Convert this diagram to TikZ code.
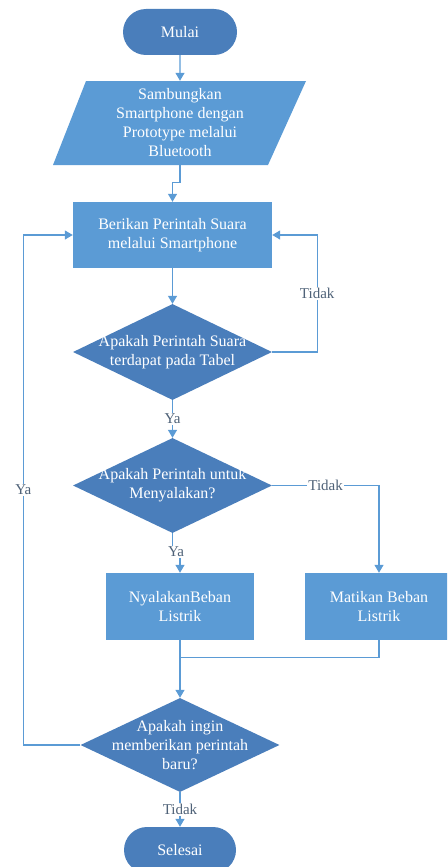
\documentclass[tikz,border=0pt]{standalone}
\usepackage{fontspec}
\setmainfont{Liberation Serif}
\usetikzlibrary{shapes.geometric,shapes.misc,arrows.meta,calc}
\definecolor{dk}{HTML}{4A7EBB}
\definecolor{lt}{HTML}{5B9BD5}
\definecolor{ln}{HTML}{5B9BD5}
\definecolor{lb}{HTML}{4F6278}
\begin{document}
\begin{tikzpicture}[x=1pt,y=-1pt,
 every node/.style={font=\fontsize{16}{19}\selectfont},
 term/.style={rounded rectangle, fill=dk, minimum width=114pt, minimum height=46pt, inner sep=0pt, text=white},
 box/.style={rectangle, fill=lt, inner sep=0pt, text=white, align=center},
 dia/.style={diamond, fill=dk, inner sep=0pt},
 txt/.style={text=white, align=center, inner sep=0pt},
 conn/.style={draw=ln, line width=1.2pt},
 arr/.style={conn, -{Triangle[width=9pt,length=8pt]}},
 lbl/.style={fill=white, text=lb, inner sep=1.5pt, font=\fontsize{15}{16}\selectfont}
]
\useasboundingbox (0,0) rectangle (447,867);
\clip (0,0) rectangle (447,867);

\node[term] (m) at (180,32) {Mulai};
\fill[lt] (86,81) -- (306,81) -- (268,165) -- (53,165) -- cycle;
\node[txt, minimum width=214pt, minimum height=84pt] (p) at (180,123) {Sambungkan\\Smartphone dengan\\Prototype melalui\\Bluetooth};
\node[box, minimum width=199pt, minimum height=66pt] (b) at (172.5,235) {Berikan Perintah Suara\\melalui Smartphone};
\node[dia, minimum width=199pt, minimum height=96pt] (d1) at (172.5,352) {};
\node[txt] (d1t) at (d1) {Apakah Perintah Suara\\terdapat pada Tabel};
\node[dia, minimum width=199pt, minimum height=95pt] (d2) at (172.5,485.5) {};
\node[txt] (d2t) at (d2) {Apakah Perintah untuk\\Menyalakan?};
\node[box, minimum width=148pt, minimum height=67pt] (n1) at (180,606.5) {NyalakanBeban\\Listrik};
\node[box, minimum width=148pt, minimum height=67pt] (n2) at (379,606.5) {Matikan Beban\\Listrik};
\node[dia, minimum width=199pt, minimum height=94pt] (d3) at (180,745) {};
\node[txt] (d3t) at (d3) {Apakah ingin\\memberikan perintah\\baru?};
\node[term, minimum width=112pt] (s) at (180,850) {Selesai};

\draw[arr] (m) -- (p);
\draw[arr] (p.south) -- ++(0,17) -| (b.north);
\draw[arr] (b) -- (d1);
\draw[arr] (d1.east) -- ++(45,0) |- node[lbl,pos=0.25]{Tidak} (b.east);
\draw[arr] (d1) -- node[lbl]{Ya} (d2);
\draw[arr] (d2.east) -| node[lbl,pos=0.25]{Tidak} (n2.north);
\draw[arr] (d2.south) -- ++(0,19) -| (n1.north);
\node[lbl] (ya2) at (176,552) {Ya};
\coordinate (mg) at ($(n1.south)+(0,17)$);
\draw[conn] (n2.south) |- (mg);
\draw[arr] (n1.south) -- (d3.north);
\draw[arr] (d3.west) -- ++(-57,0) |- node[lbl,pos=0.25]{Ya} (b.west);
\draw[arr] (d3) -- node[lbl]{Tidak} (s);
\end{tikzpicture}
\end{document}
